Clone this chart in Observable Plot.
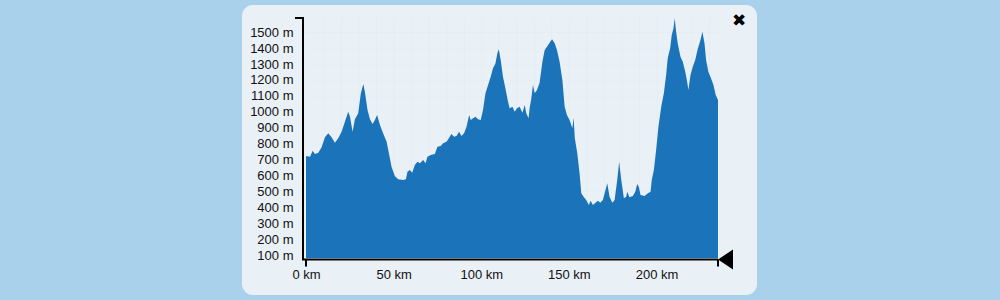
<!DOCTYPE html>
<html><head><meta charset="utf-8">
<script src="https://cdn.jsdelivr.net/npm/d3@7"></script>
<script src="https://cdn.jsdelivr.net/npm/@observablehq/plot@0.6"></script>
<style>
html,body{margin:0;padding:0;}
body{width:1000px;height:300px;background:#a9d1ec;position:relative;overflow:hidden;font-family:"Liberation Sans",Arial,sans-serif;}
#panel{position:absolute;left:242px;top:5px;width:515px;height:290px;border-radius:11px;background:#e9f0f6;}
#chart{position:absolute;left:0;top:0;}
#close{position:absolute;left:732px;top:10px;font:bold 17px "DejaVu Sans";color:#000;line-height:20px;}
</style></head>
<body><div id="panel"></div><div id="chart"></div><div id="close">✖</div>
<script>
const distanceKm = [0,2.3,3.8,5.1,7.0,8.9,10.8,12.7,14.6,16.5,18.4,20.3,22.2,24.1,25.1,26.6,27.9,29.8,31.3,32.7,33.6,35.1,36.5,38.0,39.3,40.6,42.2,44.0,46.0,47.5,48.8,50.7,52.6,55.4,57.0,57.9,59.3,60.6,62.1,63.6,65.0,66.9,68.2,69.3,71.2,73.5,75.0,76.9,78.2,80.2,81.5,83.0,84.5,85.9,87.4,88.7,90.2,91.6,93.1,94.0,95.3,96.7,98.2,99.7,101.0,102.4,103.9,105.4,106.7,108.1,109.2,110.0,111.1,112.4,113.8,115.3,116.2,117.8,119.1,120.4,121.9,123.5,124.8,125.7,127.0,127.6,128.6,129.5,130.5,131.8,133.3,134.9,136.2,137.5,139.0,140.4,141.9,143.2,144.7,146.3,147.6,148.9,150.4,152.0,152.7,153.4,154.8,156.1,157.1,158.4,159.9,161.4,162.4,163.7,165.2,166.6,167.9,169.4,170.9,171.9,173.2,174.8,176.1,177.6,178.7,179.9,181.4,182.7,183.3,184.6,186.5,187.9,189.0,189.9,190.9,193.2,195.1,196.6,197.3,198.5,199.8,201.1,202.7,204.2,205.5,206.4,207.8,208.7,209.7,210.4,211.2,212.1,213.7,215.0,216.4,217.5,218.2,219.4,220.7,222.1,223.5,225.1,226.2,227.4,228.3,229.6,231.1,232.5,233.8,235.1];
const elevationM = [721,717,755,734,742,776,839,864,839,805,833,874,937,1000,968,874,952,990,1115,1173,1125,1010,952,922,947,979,916,864,811,728,654,596,575,571,575,623,634,617,665,686,676,696,676,717,728,734,780,784,801,811,833,860,843,847,874,847,864,905,979,947,958,968,952,947,1010,1115,1167,1219,1272,1303,1366,1391,1324,1219,1146,1062,1021,1031,1000,1021,1031,993,1042,990,958,1021,1084,1167,1115,1136,1182,1313,1387,1408,1433,1454,1429,1387,1313,1199,1031,979,947,895,964,833,738,613,487,466,445,414,441,414,428,441,428,445,508,550,466,428,445,571,686,571,456,466,497,462,470,497,546,529,477,470,487,497,571,634,759,905,1031,1115,1230,1335,1398,1481,1523,1586,1502,1429,1345,1313,1251,1188,1136,1230,1282,1324,1391,1450,1502,1429,1324,1251,1209,1167,1104,1073];
const xTicksKm = [0,50,100,150,200];
const yTicksM = [100,200,300,400,500,600,700,800,900,1000,1100,1200,1300,1400,1500];
const xGridKm = [10,20,30,40,50,60,70,80,90,100,110,120,130,140,150,160,170,180,190,200,210,220,230];
const yDomainM = [81, 1588];

const rows = distanceKm.map((km, i) => ({km, m: elevationM[i]}));

function axisFrame(index, scales) {
  const xs = scales.x, ys = scales.y;
  const x0 = xs(distanceKm[0]), x1 = xs(distanceKm[distanceKm.length - 1]);
  const yTop = ys(yDomainM[1]), yBot = ys(yDomainM[0]) + 1.5;
  const ax = x0 - 3;
  const g = d3.create("svg:g").attr("fill", "none").attr("stroke", "#000").attr("stroke-width", 2);
  g.append("path").attr("d", `M${ax - 8},${yTop}H${ax}V${yBot}H${x1}`);
  g.append("path").attr("d", `M${x0},${yBot}V${yBot + 7}M${x1},${yBot}V${yBot + 7}`);
  g.append("path").attr("fill", "#000").attr("stroke", "none")
    .attr("d", `M${x1},${yBot}L${x1 + 15},${yBot - 10}L${x1 + 15},${yBot + 10}Z`);
  return g.node();
}

const chart = Plot.plot({
  width: 1000,
  height: 300,
  marginLeft: 306,
  marginRight: 282,
  marginTop: 18,
  marginBottom: 42,
  style: {background: "transparent", fontFamily: "'Liberation Sans', Arial, sans-serif", fontSize: "13px", overflow: "visible", color: "#000"},
  x: {domain: [0, distanceKm[distanceKm.length - 1]]},
  y: {domain: yDomainM},
  marks: [
    Plot.gridX(xGridKm, {stroke: "#000", strokeOpacity: 0.02}),
    Plot.gridY(yTicksM, {stroke: "#000", strokeOpacity: 0.012}),
    Plot.areaY(rows, {x: "km", y1: yDomainM[0], y2: "m", fill: "#1b74b9", curve: "linear"}),
    Plot.axisY(yTicksM, {anchor: "left", tickSize: 0, tickPadding: 13, tickFormat: d => d + " m", label: null, fontSize: 13, fill: "#111"}),
    Plot.axisX(xTicksKm, {anchor: "bottom", tickSize: 0, tickPadding: 11, tickFormat: d => d + " km", label: null, fontSize: 13, fill: "#111"}),
    axisFrame
  ]
});
document.getElementById("chart").appendChild(chart);
</script>
</body></html>
